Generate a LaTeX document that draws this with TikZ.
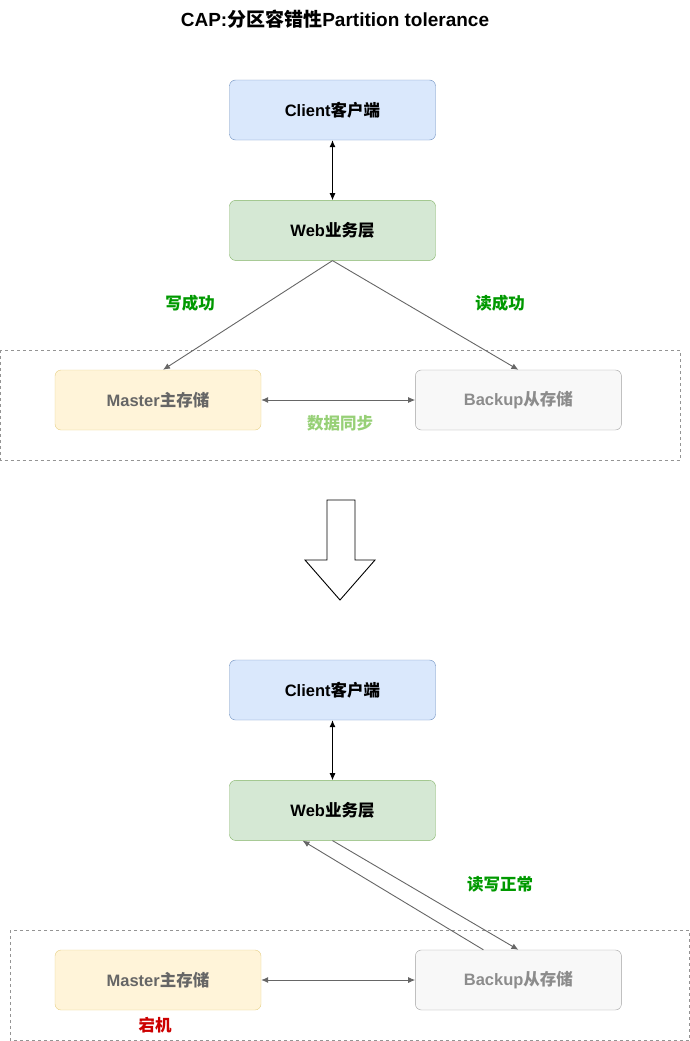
\documentclass[tikz,border=0pt]{standalone}
\usepackage{fontspec}
\setmainfont{Liberation Sans}
\newfontfamily\cjk{Noto Sans CJK SC}
\usetikzlibrary{positioning,arrows.meta}
\definecolor{cblue}{HTML}{DAE8FC}
\definecolor{cbluel}{HTML}{6C8EBF}
\definecolor{cgreen}{HTML}{D5E8D4}
\definecolor{cgreenl}{HTML}{82B366}
\definecolor{cyel}{HTML}{FFF4D9}
\definecolor{cyell}{HTML}{E6CF85}
\definecolor{cgray}{HTML}{F8F8F8}
\definecolor{cgrayl}{HTML}{A0A0A0}
\definecolor{okgreen}{HTML}{009900}
\definecolor{syncgreen}{HTML}{97D077}
\definecolor{downred}{HTML}{CC0000}
\definecolor{lgray}{HTML}{666666}
\begin{document}
\begin{tikzpicture}[x=1pt,y=-1pt,font=\bfseries\fontsize{16.5}{19}\selectfont,node distance=60pt and 154pt,
  box/.style={rounded corners=6pt,minimum width=206pt,minimum height=60pt,align=center},
  cli/.style={box,draw=cbluel,fill=cblue},
  web/.style={box,draw=cgreenl,fill=cgreen},
  mst/.style={box,draw=cyell,fill=cyel,text=lgray},
  bak/.style={box,draw=cgrayl,fill=cgray,text=lgray!75},
  zone/.style={draw=lgray!70,dash pattern=on 3pt off 3pt},
  lbl/.style={text=okgreen},
  dbl/.style={line width=0.9pt,{Latex[length=7pt,width=6pt]}-{Latex[length=7pt,width=6pt]}},
  ar/.style={line width=0.9pt,-{Latex[length=7pt,width=6pt]},draw=lgray}]
  \useasboundingbox (0,0) rectangle (690,1041);
  \node[font=\bfseries\fontsize{19}{22}\selectfont] (title) at (335,19) {CAP:{\cjk 分区容错性}Partition tolerance};
  % before the partition
  \draw[zone] (0.5,350) rectangle (680,460);
  \node[cli] (c1) at (332.5,110) {Client{\cjk 客户端}};
  \node[web,below=of c1] (w1) {Web{\cjk 业务层}};
  \node[mst] (m1) at (158,400) {Master{\cjk 主存储}};
  \node[bak,right=of m1] (b1) {Backup{\cjk 从存储}};
  \draw[dbl] (c1)--(w1);
  \draw[ar](w1.south)--([xshift=5pt]m1.north);\draw[ar](w1.south)--(b1.north);
  \draw[dbl,draw=lgray](m1)--(b1);
  \node[lbl] (wok) at (190,303) {\cjk 写成功};
  \node[lbl] (rok) at (500,303) {\cjk 读成功};
  \node[text=syncgreen] (sync) at (340,423) {\cjk 数据同步};
  % big arrow
  \draw[line width=0.9pt] (327,500)--(355,500)--(355,560)--(375,560)--(340,600)--(305,560)--(327,560)--cycle;
  % after the partition
  \draw[zone] (10,930) rectangle (689.5,1040);
  \node[cli] (c2) at (332.5,690) {Client{\cjk 客户端}};
  \node[web,below=of c2] (w2) {Web{\cjk 业务层}};
  \node[mst] (m2) at (158,980) {Master{\cjk 主存储}};
  \node[bak,right=of m2] (b2) {Backup{\cjk 从存储}};
  \draw[dbl] (c2)--(w2);
  \draw[ar](w2.south)--(b2.north);\draw[ar]([xshift=-35pt]b2.north)--([xshift=-30pt]w2.south);
  \draw[dbl,draw=lgray](m2)--(b2);
  \node[lbl] (rw) at (500,884) {\cjk 读写正常};
  \node[text=downred] (down) at (155,1025) {\cjk 宕机};
\end{tikzpicture}
\end{document}
